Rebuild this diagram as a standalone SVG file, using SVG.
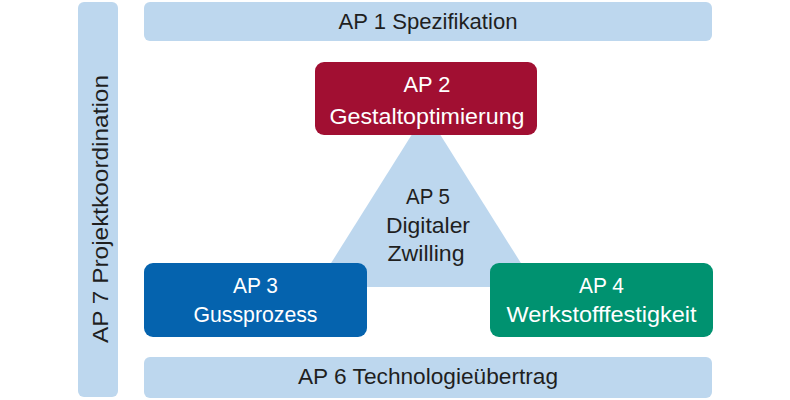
<svg xmlns="http://www.w3.org/2000/svg" width="790" height="400" viewBox="0 0 790 400">
  <style>
    .bar { fill: #BDD7EE; }
    .lbl { font-family: "Liberation Sans", Arial, sans-serif; font-size: 22px; text-anchor: middle; }
    .dark { fill: #1F1F1F; }
    .light { fill: #FFFFFF; }
  </style>
  <rect x="0" y="0" width="790" height="400" fill="#FFFFFF"/>
  <g id="ap7">
    <rect class="bar" x="78" y="2" width="40" height="395" rx="6"/>
    <text class="lbl dark" transform="translate(107.5,209) rotate(-90)" x="0" y="0" textLength="268" lengthAdjust="spacingAndGlyphs">AP 7 Projektkoordination</text>
  </g>
  <g id="ap1">
    <rect class="bar" x="144" y="2" width="568" height="39" rx="6"/>
    <text class="lbl dark" x="428" y="28.5" textLength="179" lengthAdjust="spacingAndGlyphs">AP 1 Spezifikation</text>
  </g>
  <g id="ap6">
    <rect class="bar" x="144" y="357" width="568" height="41" rx="6"/>
    <text class="lbl dark" x="428" y="383.5" textLength="260" lengthAdjust="spacingAndGlyphs">AP 6 Technologieübertrag</text>
  </g>
  <g id="ap5">
    <polygon class="bar" points="426,112 316,287 536,287"/>
    <text class="lbl dark" x="428" y="203.5" textLength="44" lengthAdjust="spacingAndGlyphs">AP 5</text>
    <text class="lbl dark" x="428" y="233" textLength="84" lengthAdjust="spacingAndGlyphs">Digitaler</text>
    <text class="lbl dark" x="426" y="261" textLength="77" lengthAdjust="spacingAndGlyphs">Zwilling</text>
  </g>
  <g id="ap2">
    <rect x="315" y="62" width="222" height="73" rx="9" fill="#A10F32"/>
    <text class="lbl light" x="427" y="92" textLength="47" lengthAdjust="spacingAndGlyphs">AP 2</text>
    <text class="lbl light" x="427" y="123.5" textLength="195" lengthAdjust="spacingAndGlyphs">Gestaltoptimierung</text>
  </g>
  <g id="ap3">
    <rect x="144" y="263" width="223" height="74" rx="9" fill="#0563AE"/>
    <text class="lbl light" x="255.5" y="293" textLength="45" lengthAdjust="spacingAndGlyphs">AP 3</text>
    <text class="lbl light" x="255.5" y="322" textLength="124" lengthAdjust="spacingAndGlyphs">Gussprozess</text>
  </g>
  <g id="ap4">
    <rect x="490" y="263" width="223" height="74" rx="9" fill="#009270"/>
    <text class="lbl light" x="601.5" y="293" textLength="45" lengthAdjust="spacingAndGlyphs">AP 4</text>
    <text class="lbl light" x="601.5" y="322" textLength="190" lengthAdjust="spacingAndGlyphs">Werkstofffestigkeit</text>
  </g>
  <g id="connectors"/>
</svg>
